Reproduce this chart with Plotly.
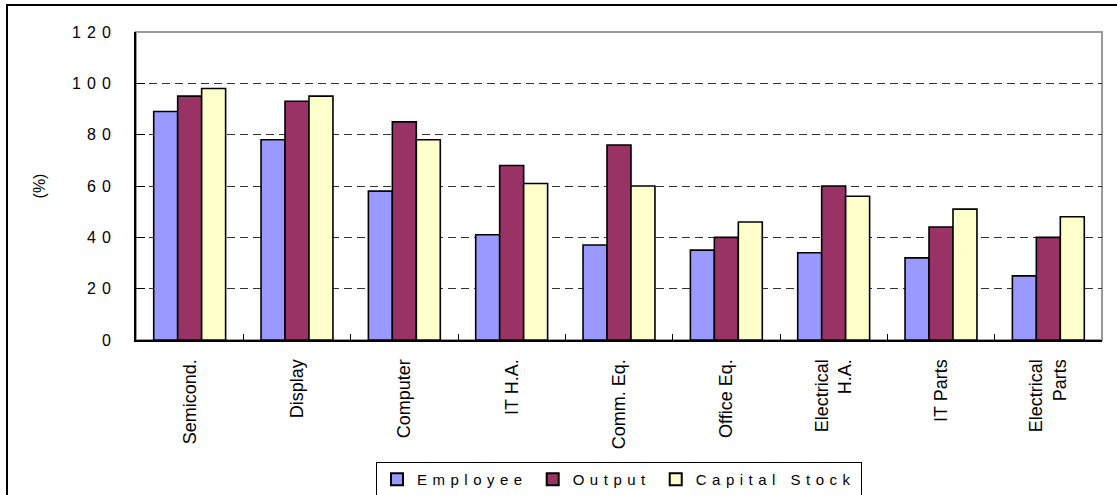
import plotly.graph_objects as go

# Industry categories and shares (%) for each measure
categories = ["Semicond.", "Display", "Computer", "IT H.A.", "Comm. Eq.",
              "Office Eq.", "Electrical<br>H.A.", "IT Parts", "Electrical<br>Parts"]
employee = [89, 78, 58, 41, 37, 35, 34, 32, 25]
output = [95, 93, 85, 68, 76, 40, 60, 44, 40]
capital_stock = [98, 95, 78, 61, 60, 46, 56, 51, 48]

series_names = ["Employee", "Output", "Capital Stock"]
series_colors = ["#9999FF", "#993366", "#FFFFCC"]

y_ticks = [0, 20, 40, 60, 80, 100, 120]

W, H = 1117, 495
ML, MR, MT, MB = 136, 15, 32, 155
PW = W - ML - MR
PH = H - MT - MB


def px_x(px):
    return (px - ML) / PW


def px_y(py):
    return (H - MB - py) / PH


def spaced(txt, sp):
    return f'<span style="letter-spacing:{sp}px">{txt}</span>'


fig = go.Figure()
for name, vals, col in zip(series_names, [employee, output, capital_stock], series_colors):
    fig.add_trace(go.Bar(
        x=categories, y=vals, name=spaced(name, 5.5),
        marker=dict(color=col, line=dict(color="#000000", width=1.6)),
    ))

fig.update_layout(
    width=W, height=H,
    margin=dict(l=ML, r=MR, t=MT, b=MB, pad=0, autoexpand=False),
    paper_bgcolor="white", plot_bgcolor="white",
    barmode="group", bargap=0.33, bargroupgap=0,
    font=dict(family="Liberation Sans, Arial", color="#000000"),
    showlegend=True,
    legend=dict(
        orientation="h", x=px_x(619), xanchor="center",
        y=px_y(462), yanchor="top",
        bordercolor="#000000", borderwidth=1,
        font=dict(size=15), itemsizing="constant",
        traceorder="normal", itemwidth=30,
    ),
    xaxis=dict(
        tickangle=-90, tickfont=dict(size=18), automargin=False,
        ticks="inside", tickson="boundaries", ticklen=6, tickcolor="#000000",
        showline=True, linecolor="#000000", linewidth=2,
        showgrid=False, ticklabelstandoff=10,
    ),
    yaxis=dict(
        range=[0, 120], tickvals=y_ticks, automargin=False,
        ticktext=[spaced(str(v), 6) for v in y_ticks],
        tickfont=dict(size=16),
        ticks="inside", ticklen=9, tickcolor="#000000",
        showline=True, linecolor="#000000", linewidth=2,
        showgrid=True, gridcolor="#333333", gridwidth=1, griddash="8px,5px",
        zeroline=False, ticklabelstandoff=14,
        title=dict(text="(%)", font=dict(size=16), standoff=22),
    ),
    shapes=[
        # grey frame of the plotting area
        dict(type="rect", xref="paper", yref="paper", x0=0, x1=1, y0=0, y1=1,
             line=dict(color="#999999", width=2), layer="between"),
        # outer chart border
        dict(type="rect", xref="paper", yref="paper",
             x0=px_x(7), x1=px_x(1130), y0=px_y(505), y1=px_y(5),
             line=dict(color="#000000", width=2), layer="above"),
    ],
)

fig.write_html("out.html")
